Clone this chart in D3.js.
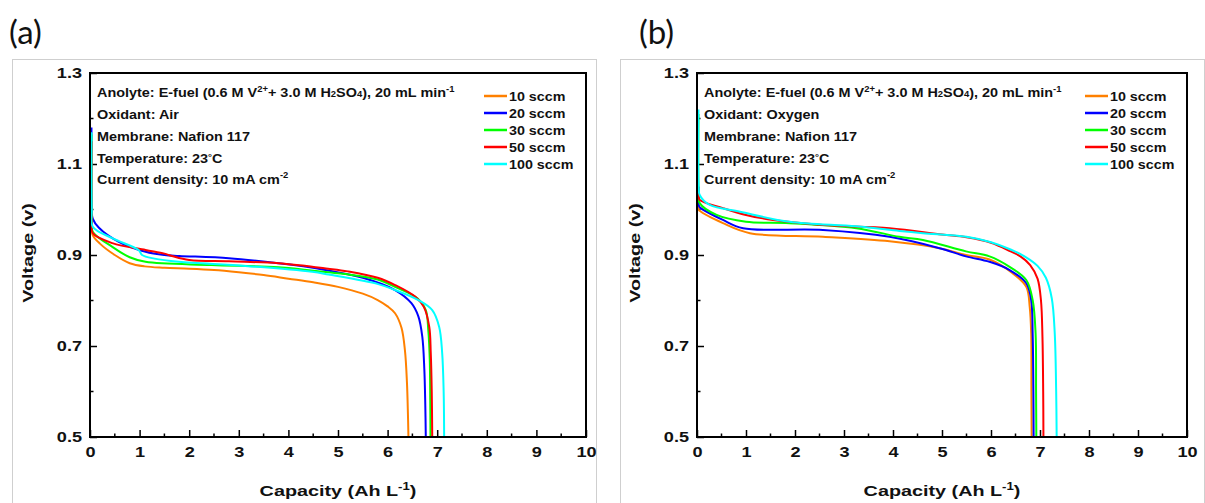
<!DOCTYPE html>
<html><head><meta charset="utf-8">
<script src="https://cdn.jsdelivr.net/npm/d3@7/dist/d3.min.js"></script>
<style>body{margin:0;background:#fff}svg{display:block}</style>
</head><body>
<svg id="c" width="1205" height="503"></svg>
<script>
// ---------- data ----------
const seriesNames = ["10 sccm","20 sccm","30 sccm","50 sccm","100 sccm"];
const seriesColors = ["#FF8000","#0000FF","#00FF00","#FF0000","#00FFFF"];
const xTicks = [0,1,2,3,4,5,6,7,8,9,10];
const yTicks = [0.5,0.7,0.9,1.1,1.3];

// Panel (a) Air — [capacity Ah/L, voltage V]
const a10 = [[0.03,1.15],[0.035,0.97],[0.05,0.945],[0.2,0.925],[0.5,0.9],[0.8,0.882],[1.1,0.875],[1.5,0.872],[2.0,0.87],[2.5,0.867],[3.0,0.862],[3.5,0.856],[4.0,0.848],[4.5,0.84],[5.0,0.83],[5.5,0.815],[5.8,0.801],[6.0,0.787],[6.15,0.772],[6.28,0.74],[6.35,0.69],[6.39,0.62],[6.41,0.55],[6.42,0.5]];
const a20 = [[0.03,1.18],[0.035,1.0],[0.055,0.98],[0.18,0.96],[0.58,0.929],[1.12,0.907],[1.5,0.9],[1.8,0.898],[2.8,0.893],[3.8,0.882],[4.3,0.875],[4.8,0.866],[5.5,0.85],[6.15,0.823],[6.48,0.794],[6.62,0.765],[6.7,0.72],[6.74,0.65],[6.76,0.57],[6.77,0.5]];
const a30 = [[0.03,1.165],[0.035,0.98],[0.055,0.951],[0.45,0.918],[0.8,0.895],[1.12,0.885],[2.45,0.878],[3.8,0.873],[4.8,0.862],[5.15,0.858],[5.8,0.846],[6.15,0.83],[6.6,0.805],[6.77,0.779],[6.82,0.735],[6.85,0.67],[6.86,0.58],[6.865,0.5]];
const a50 = [[0.03,1.15],[0.035,0.97],[0.055,0.948],[0.45,0.926],[1.12,0.911],[1.5,0.903],[1.65,0.898],[2.0,0.889],[2.8,0.886],[3.8,0.882],[4.8,0.87],[5.2,0.864],[5.8,0.85],[6.15,0.834],[6.56,0.808],[6.73,0.786],[6.84,0.742],[6.87,0.685],[6.89,0.6],[6.9,0.5]];
const a100 = [[0.03,1.17],[0.035,1.0],[0.055,0.962],[0.45,0.937],[0.98,0.911],[1.05,0.9],[1.3,0.892],[1.79,0.885],[3.13,0.876],[4.48,0.863],[4.81,0.857],[5.81,0.836],[6.15,0.823],[6.62,0.801],[6.9,0.779],[7.04,0.742],[7.1,0.685],[7.13,0.6],[7.14,0.5]];

// Panel (b) Oxygen
const b10 = [[0.03,1.05],[0.035,1.0],[0.055,0.997],[0.53,0.97],[1.08,0.948],[2.57,0.94],[3.93,0.93],[4.95,0.915],[5.49,0.9],[5.97,0.89],[6.44,0.86],[6.72,0.83],[6.79,0.786],[6.82,0.728],[6.825,0.6],[6.83,0.5]];
const b20 = [[0.03,1.05],[0.035,1.01],[0.055,1.005],[0.53,0.977],[0.94,0.959],[2.57,0.955],[3.93,0.94],[4.95,0.915],[5.49,0.897],[5.97,0.885],[6.38,0.867],[6.72,0.838],[6.82,0.801],[6.85,0.728],[6.865,0.6],[6.87,0.5]];
const b30 = [[0.03,1.21],[0.035,1.03],[0.055,1.014],[0.4,0.988],[1.0,0.973],[1.89,0.97],[3.25,0.959],[4.13,0.94],[4.61,0.933],[5.49,0.908],[5.97,0.897],[6.38,0.874],[6.72,0.845],[6.85,0.801],[6.91,0.728],[6.92,0.6],[6.925,0.5]];
const b50 = [[0.03,1.05],[0.035,1.03],[0.055,1.021],[0.53,1.003],[1.0,0.988],[1.55,0.977],[2.57,0.966],[3.93,0.959],[5.0,0.945],[5.5,0.939],[6.0,0.927],[6.4,0.908],[6.6,0.897],[6.8,0.878],[6.95,0.848],[7.02,0.8],[7.05,0.72],[7.065,0.6],[7.07,0.5]];
const b100 = [[0.03,1.22],[0.035,1.05],[0.055,1.032],[0.26,1.01],[0.88,0.995],[1.89,0.973],[3.25,0.963],[4.13,0.953],[4.61,0.948],[5.5,0.94],[6.0,0.928],[6.4,0.912],[6.7,0.896],[6.95,0.876],[7.12,0.85],[7.24,0.805],[7.3,0.73],[7.33,0.6],[7.34,0.5]];

const panels = [
  {label:"(a)", oxidant:"Air", series:[a10,a20,a30,a50,a100], x0:90, x1:586, box:12.5, lx:9},
  {label:"(b)", oxidant:"Oxygen", series:[b10,b20,b30,b50,b100], x0:697, x1:1187, box:620.5, lx:639}
];

// ---------- drawing ----------
const svg = d3.select("#c");
const Y0 = 73, Y1 = 437;
const FONT = "'Liberation Sans', Arial, sans-serif";
const SX = 1.25; // horizontal stretch of text as in the reference

panels.forEach((p, pi) => {
  svg.append("rect").attr("x", p.box).attr("y", 59.5).attr("width", 584).attr("height", 460)
    .attr("fill", "none").attr("stroke", "#cfcfcf").attr("stroke-width", 1);
  svg.append("text").attr("x", p.lx).attr("y", 44).attr("font-family", "Lato, 'Open Sans', sans-serif")
    .attr("font-size", 33).attr("fill", "#111").text(p.label);

  const x = d3.scaleLinear().domain([0,10]).range([p.x0, p.x1]);
  const y = d3.scaleLinear().domain([0.5,1.3]).range([Y1, Y0]);
  const g = svg.append("g");

  const clipId = "clip" + pi;
  svg.append("clipPath").attr("id", clipId).append("rect")
    .attr("x", p.x0).attr("y", Y0).attr("width", p.x1 - p.x0).attr("height", Y1 - Y0);

  // minor ticks
  const minorX = d3.range(0.5, 10, 1);
  const minorY = [0.6,0.8,1.0,1.2];
  g.append("g").selectAll("line").data(minorX).join("line")
    .attr("x1", d => x(d)).attr("x2", d => x(d)).attr("y1", Y1).attr("y2", Y1 - 3.5)
    .attr("stroke", "#000").attr("stroke-width", 1.5);
  g.append("g").selectAll("line").data(minorY).join("line")
    .attr("y1", d => y(d)).attr("y2", d => y(d)).attr("x1", p.x0).attr("x2", p.x0 + 3.5)
    .attr("stroke", "#000").attr("stroke-width", 1.5);

  // axes
  const ax = g.append("g").attr("transform", `translate(0,${Y1})`)
    .call(d3.axisBottom(x).tickValues(xTicks).tickFormat(d3.format("d")).tickSizeInner(-7).tickSizeOuter(0).tickPadding(10));
  const ay = g.append("g").attr("transform", `translate(${p.x0},0)`)
    .call(d3.axisLeft(y).tickValues(yTicks).tickFormat(d3.format(".1f")).tickSizeInner(-7).tickSizeOuter(0).tickPadding(8));
  [ax, ay].forEach(a => {
    a.select(".domain").remove();
    a.selectAll(".tick line").attr("stroke-width", 1.5);
    a.selectAll("text").attr("font-family", FONT).attr("font-weight", "bold")
      .attr("font-size", 14.5).attr("fill", "#111");
  });
  ax.selectAll("text").attr("transform", `scale(${SX},1)`);
  ay.selectAll("text").attr("x", -8 / SX).attr("transform", `scale(${SX},1)`);

  // curves
  const line = d3.line().x(d => x(d[0])).y(d => y(d[1])).curve(d3.curveCatmullRom.alpha(0.5));
  const cg = svg.append("g").attr("clip-path", `url(#${clipId})`);
  p.series.forEach((s, i) => {
    cg.append("path").datum(s).attr("d", line).attr("fill", "none")
      .attr("stroke", seriesColors[i]).attr("stroke-width", 2).attr("stroke-linejoin", "round");
  });

  // frame
  svg.append("rect").attr("x", p.x0).attr("y", Y0).attr("width", p.x1 - p.x0).attr("height", Y1 - Y0)
    .attr("fill", "none").attr("stroke", "#000").attr("stroke-width", 2);

  // axis titles
  const cx = (p.x0 + p.x1) / 2;
  const xt = svg.append("text").attr("font-family", FONT).attr("font-weight", "bold").attr("font-size", 15)
    .attr("text-anchor", "middle").attr("fill", "#111")
    .attr("transform", `translate(${cx},496) scale(1.32,1)`);
  xt.append("tspan").text("Capacity (Ah L");
  xt.append("tspan").attr("font-size", 10).attr("dy", -6).text("-1");
  xt.append("tspan").attr("dy", 6).text(")");
  svg.append("text").attr("font-family", FONT).attr("font-weight", "bold").attr("font-size", 15)
    .attr("text-anchor", "middle").attr("fill", "#111")
    .attr("transform", `translate(${p.x0 - 57},${(Y0 + Y1) / 2 - 2}) rotate(-90) scale(1.32,1)`)
    .text("Voltage (v)");

  // annotation
  const tx = p.x0 + 7;
  const lines = [96.5, 118.5, 140.5, 162.5, 184];
  const ann = (yy) => svg.append("text").attr("font-family", FONT).attr("font-weight", "bold")
    .attr("font-size", 13).attr("fill", "#111").attr("transform", `translate(${tx},${yy}) scale(1.11,1)`);
  const t1 = ann(lines[0]);
  t1.append("tspan").text("Anolyte: E-fuel (0.6 M V");
  t1.append("tspan").attr("font-size", 8.5).attr("dy", -5).text("2+");
  t1.append("tspan").attr("dy", 5).text("+ 3.0 M H");
  t1.append("tspan").attr("font-size", 8.5).text("2");
  t1.append("tspan").text("SO");
  t1.append("tspan").attr("font-size", 8.5).text("4");
  t1.append("tspan").text("), 20 mL min");
  t1.append("tspan").attr("font-size", 8.5).attr("dy", -5).text("-1");
  ann(lines[1]).text("Oxidant: " + p.oxidant);
  ann(lines[2]).text("Membrane: Nafion 117");
  const t4 = ann(lines[3]);
  t4.append("tspan").text("Temperature: 23");
  t4.append("tspan").attr("font-size", 9).attr("dy", -3).text("\u00B0");
  t4.append("tspan").attr("dy", 3).text("C");
  const t5 = ann(lines[4]);
  t5.append("tspan").text("Current density: 10 mA cm");
  t5.append("tspan").attr("font-size", 8.5).attr("dy", -6).text("-2");

  // legend
  const lx0 = p.x1 - 102;
  seriesNames.forEach((n, i) => {
    const yy = 96 + i * 17;
    svg.append("line").attr("x1", lx0).attr("x2", lx0 + 23).attr("y1", yy).attr("y2", yy)
      .attr("stroke", seriesColors[i]).attr("stroke-width", 2.5);
    svg.append("text").attr("font-family", FONT).attr("font-weight", "bold").attr("font-size", 13)
      .attr("fill", "#111").attr("transform", `translate(${lx0 + 25},${yy + 4.5}) scale(1.1,1)`).text(n);
  });
});
</script>
</body></html>
